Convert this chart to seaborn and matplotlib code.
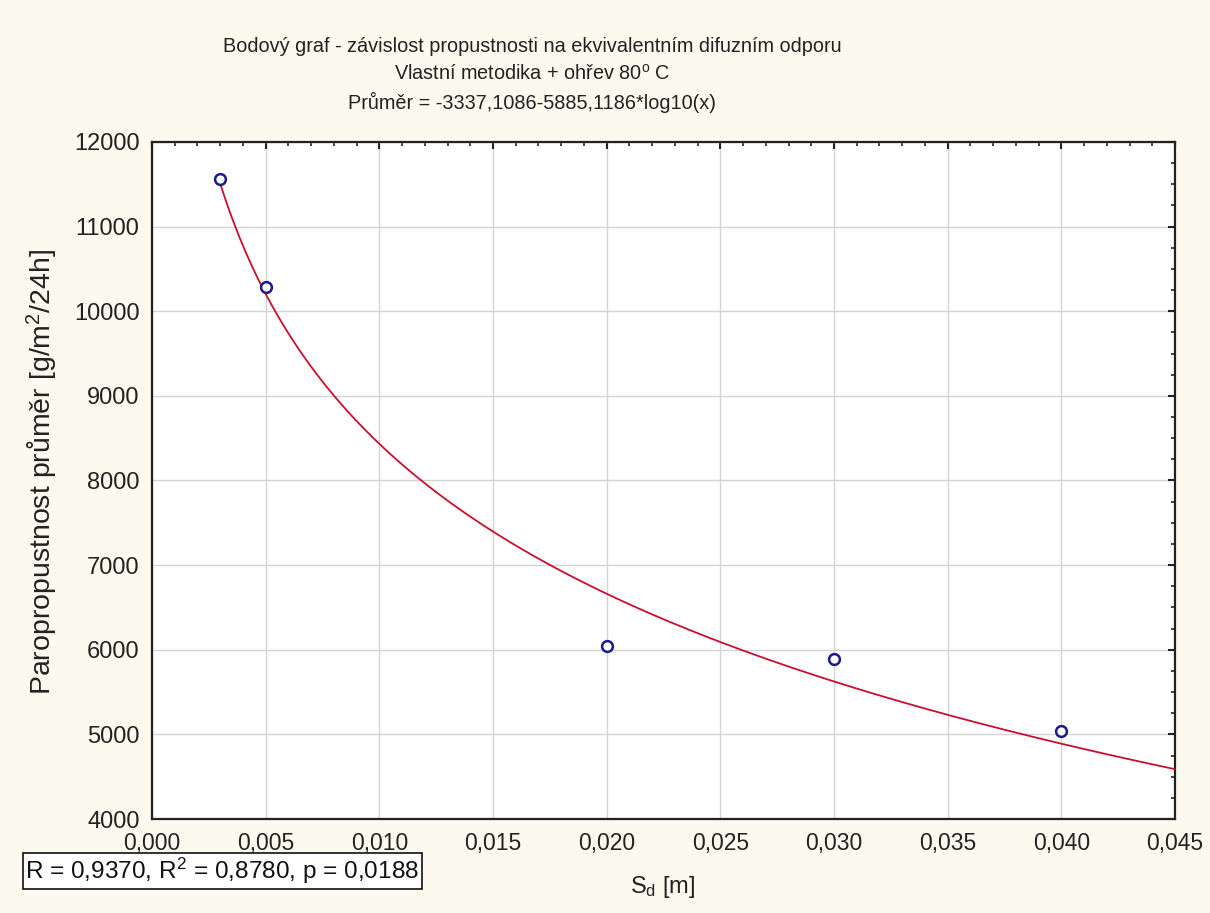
import numpy as np
import pandas as pd
import matplotlib
matplotlib.use("Agg")
import matplotlib.pyplot as plt
import seaborn as sns
from matplotlib.ticker import MultipleLocator, FuncFormatter

# ---- data ----
sd_m = [0.003, 0.005, 0.020, 0.030, 0.040]
propustnost = [11560, 10290, 6050, 5890, 5040]
coef_a = -3337.1086
coef_b = -5885.1186
fit_x_start = 0.003
fit_x_end = 0.045
x_ticks = [0.000, 0.005, 0.010, 0.015, 0.020, 0.025, 0.030, 0.035, 0.040, 0.045]
y_ticks = [4000, 5000, 6000, 7000, 8000, 9000, 10000, 11000, 12000]

title_lines = [
    "Bodový graf - závislost propustnosti na ekvivalentním difuzním odporu",
    "Vlastní metodika + ohřev 80$^{\\mathrm{o}}$ C",
    "Průměr = -3337,1086-5885,1186*log10(x)",
]
stats_text = "R = 0,9370, R$^{2}$ = 0,8780, p = 0,0188"
x_label = "S$_\\mathrm{d}$ [m]"
y_label = "Paropropustnost průměr [g/m$^{2}$/24h]"

sns.set_style("white")
plt.rcParams["font.family"] = ["Liberation Sans", "DejaVu Sans"]
plt.rcParams["mathtext.fontset"] = "custom"
plt.rcParams["mathtext.rm"] = "Liberation Sans"
plt.rcParams["mathtext.it"] = "Liberation Sans:italic"
plt.rcParams["mathtext.bf"] = "Liberation Sans:bold"

bg = "#FCF9EE"
txt = "#222222"
W, H = 1210, 913
fig = plt.figure(figsize=(12.1, 9.13), dpi=100, facecolor=bg)
ax = fig.add_axes([152 / W, 1 - 819 / H, (1175 - 152) / W, (819 - 142) / H])
ax.set_facecolor("white")

df = pd.DataFrame({"x": sd_m, "y": propustnost})
fx = np.linspace(fit_x_start, fit_x_end, 300)
fit = pd.DataFrame({"x": fx, "y": coef_a + coef_b * np.log10(fx)})

sns.lineplot(data=fit, x="x", y="y", ax=ax, color="#C8102E", linewidth=1.3, zorder=3)
sns.scatterplot(data=df, x="x", y="y", ax=ax, marker="o", s=60,
                facecolor="white", edgecolor="#1A1A8C", linewidth=1.8, zorder=4)

ax.set_xlim(0, 0.045)
ax.set_ylim(4000, 12000)
ax.set_xticks(x_ticks)
ax.set_yticks(y_ticks)
ax.xaxis.set_minor_locator(MultipleLocator(0.001))
ax.yaxis.set_minor_locator(MultipleLocator(250))
ax.xaxis.set_major_formatter(FuncFormatter(lambda v, p: f"{v:.3f}".replace(".", ",")))
ax.yaxis.set_major_formatter(FuncFormatter(lambda v, p: f"{int(round(v))}"))
ax.grid(True, which="major", color="#D4D4D4", linewidth=1.0)
ax.set_axisbelow(True)
for s in ax.spines.values():
    s.set_color(txt)
    s.set_linewidth(1.6)
ax.tick_params(axis="both", which="major", direction="in", length=5, width=1.5,
               colors=txt, top=True, right=True)
ax.tick_params(axis="y", which="major", labelsize=17, pad=9)
ax.tick_params(axis="x", which="major", labelsize=16.5, pad=9)
ax.tick_params(axis="both", which="minor", direction="in", length=3, width=1.2,
               top=True, right=True, colors=txt)
ax.set_xlabel("")
ax.set_ylabel("")

fig.text(663 / W, 1 - 887 / H, x_label, ha="center", va="center", fontsize=17, color=txt)
fig.text(42 / W, 1 - 472 / H, y_label, ha="center", va="center", rotation=90,
         fontsize=20.5, color=txt)

ys = [46, 74, 102]
for t, yy in zip(title_lines, ys):
    fig.text(532 / W, 1 - yy / H, t, ha="center", va="center", fontsize=14.3, color=txt)

fig.text(25 / W, 1 - 871 / H, stats_text, ha="left", va="center", fontsize=17.6,
         color="#111111",
         bbox=dict(boxstyle="square,pad=0.1", facecolor="white", edgecolor="#111111", linewidth=1.2))

fig.savefig("out.png", dpi=100, facecolor=bg)
